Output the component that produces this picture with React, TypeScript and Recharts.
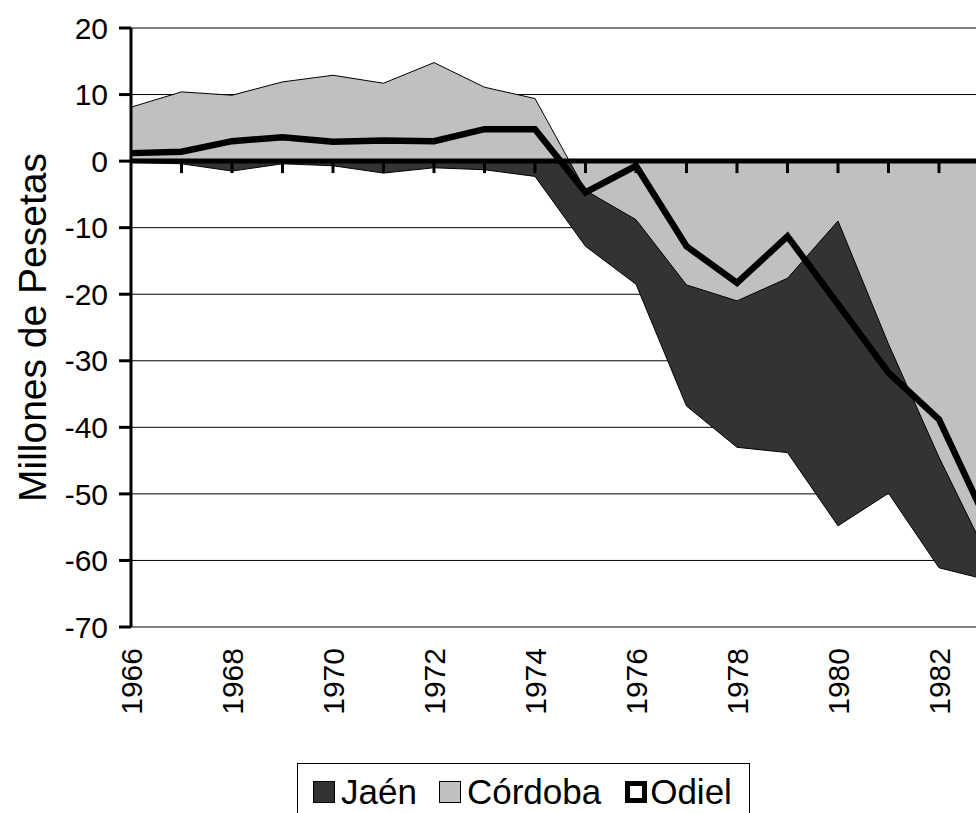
import React from "react";
import {
  ComposedChart,
  Area,
  Line,
  XAxis,
  YAxis,
  CartesianGrid,
  ReferenceLine,
} from "recharts";

// años de la serie
const years = [
  1966, 1967, 1968, 1969, 1970, 1971, 1972, 1973, 1974,
  1975, 1976, 1977, 1978, 1979, 1980, 1981, 1982, 1983,
];

// millones de pesetas
const jaen = [
  -0.2, -0.4, -1.5, -0.4, -0.7, -1.8, -1.0, -1.3, -2.3,
  -12.8, -18.5, -36.8, -43.0, -43.8, -54.8, -49.9, -61.1, -63.0,
];
const cordoba = [
  8.1, 10.4, 9.9, 11.9, 12.9, 11.7, 14.8, 11.1, 9.4,
  -4.4, -8.8, -18.6, -21.0, -17.6, -9.0, -27.5, -44.5, -60.0,
];
const odiel = [
  1.2, 1.4, 3.0, 3.6, 2.9, 3.1, 3.0, 4.8, 4.8,
  -4.7, -0.7, -12.8, -18.3, -11.3, -21.5, -31.8, -38.8, -55.0,
];

const yTicks = [20, 10, 0, -10, -20, -30, -40, -50, -60, -70];
const xTicks = [1966, 1968, 1970, 1972, 1974, 1976, 1978, 1980, 1982];

const FONT = '"Liberation Sans", Arial, sans-serif';
const DARK = "#333333";
const LIGHT = "#c0c0c0";

const chartData = years.map((year, i) => ({
  year,
  jaen: jaen[i],
  cordoba: cordoba[i],
  odiel: odiel[i],
}));

function YearTick({ x, y, payload }: { x?: number; y?: number; payload?: { value: number } }) {
  const ty = (y ?? 0) + 21;
  return (
    <text
      x={x}
      y={ty}
      transform={`rotate(-90, ${x}, ${ty})`}
      textAnchor="end"
      dy="0.36em"
      fontSize={30}
      fontFamily={FONT}
      fill="#000"
    >
      {payload?.value}
    </text>
  );
}

function AxisTitle({ viewBox }: { viewBox?: { x: number; y: number; width: number; height: number } }) {
  if (!viewBox) return null;
  const cx = viewBox.x + 46;
  const cy = viewBox.y + viewBox.height / 2;
  return (
    <text
      x={cx}
      y={cy}
      transform={`rotate(-90, ${cx}, ${cy})`}
      textAnchor="middle"
      fontSize={39}
      fontFamily={FONT}
      fill="#000"
    >
      Millones de Pesetas
    </text>
  );
}

function Swatch({ fill, thick }: { fill: string; thick?: boolean }) {
  return (
    <span
      style={{
        display: "inline-block",
        boxSizing: "border-box",
        width: 22,
        height: 22,
        background: fill,
        border: thick ? "5px solid #000" : "1px solid #000",
        marginRight: thick ? 3 : 6,
      }}
    />
  );
}

function LegendBox() {
  return (
    <div
      style={{
        position: "absolute",
        left: 297,
        top: 763,
        width: 453,
        height: 58,
        boxSizing: "border-box",
        border: "1px solid #000",
        background: "#fff",
        display: "flex",
        alignItems: "center",
        paddingLeft: 15,
        fontFamily: FONT,
        fontSize: 35,
        color: "#000",
      }}
    >
      <Swatch fill={DARK} />
      <span style={{ marginRight: 22 }}>Jaén</span>
      <Swatch fill={LIGHT} />
      <span style={{ marginRight: 24 }}>Córdoba</span>
      <Swatch fill="#fff" thick />
      <span>Odiel</span>
    </div>
  );
}

export default function App() {
  return (
    <div
      style={{
        position: "fixed",
        left: 0,
        top: 0,
        width: 976,
        height: 813,
        overflow: "hidden",
        background: "#fff",
      }}
    >
      <ComposedChart
        width={1000}
        height={813}
        data={chartData}
        margin={{ top: 28, right: 10.5, bottom: 86, left: 0 }}
      >
        <CartesianGrid horizontal vertical={false} stroke="#000" strokeWidth={1} />
        <XAxis
          dataKey="year"
          type="number"
          domain={[1966, 1983]}
          ticks={xTicks}
          interval={0}
          axisLine={false}
          tickLine={false}
          tickSize={0}
          tickMargin={0}
          height={100}
          tick={<YearTick />}
        />
        <YAxis
          domain={[-70, 20]}
          ticks={yTicks}
          interval={0}
          width={131}
          axisLine={{ stroke: "#000", strokeWidth: 3 }}
          tickLine={{ stroke: "#000", strokeWidth: 3 }}
          tickSize={12}
          tickMargin={11}
          tick={{ fontSize: 30, fill: "#000", fontFamily: FONT }}
          label={<AxisTitle />}
        />
        <Area
          dataKey="jaen"
          name="Jaén"
          type="linear"
          baseValue={0}
          fill={DARK}
          fillOpacity={1}
          stroke="#000"
          strokeWidth={1}
          dot={false}
          activeDot={false}
          isAnimationActive={false}
        />
        <Area
          dataKey="cordoba"
          name="Córdoba"
          type="linear"
          baseValue={0}
          fill={LIGHT}
          fillOpacity={1}
          stroke="#000"
          strokeWidth={1}
          dot={false}
          activeDot={false}
          isAnimationActive={false}
        />
        <ReferenceLine y={0} stroke="#000" strokeWidth={5} />
        {years.slice(1).map((yr) => (
          <ReferenceLine
            key={yr}
            segment={[
              { x: yr, y: 0 },
              { x: yr, y: -1.8 },
            ]}
            stroke="#000"
            strokeWidth={3}
          />
        ))}
        <Line
          dataKey="odiel"
          name="Odiel"
          type="linear"
          stroke="#000"
          strokeWidth={6.5}
          dot={false}
          activeDot={false}
          isAnimationActive={false}
        />
      </ComposedChart>
      <LegendBox />
    </div>
  );
}
